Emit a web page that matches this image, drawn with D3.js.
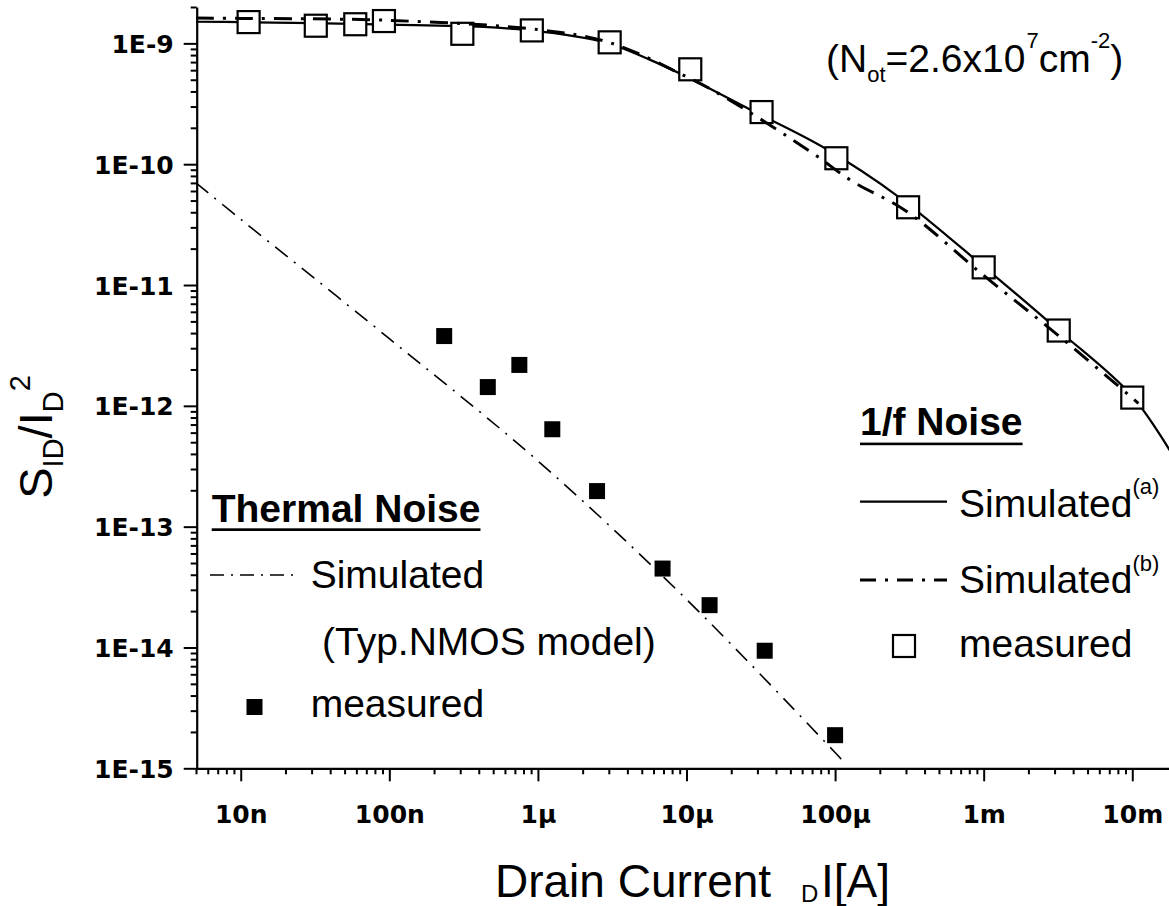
<!DOCTYPE html>
<html>
<head>
<meta charset="utf-8">
<script src="https://cdn.jsdelivr.net/npm/d3@7"></script>
<style>
  body { margin: 0; background: #fff; }
  svg { display: block; }
  .tickText { font-family: "DejaVu Sans", sans-serif; font-weight: bold; font-size: 25px; fill: #000; }
  .arial { font-family: "Liberation Sans", Arial, sans-serif; fill: #000; }
</style>
</head>
<body>
<div id="canvas"></div>
<script>
"use strict"
// canvas size
let svgWidth = 1169;
let svgHeight = 906;

// ---- data ----
// 1/f noise, measured (open squares)
const flickerX = [1.13e-8, 3.2e-8, 5.9e-8, 9.2e-8, 3.1e-7, 9.1e-7, 3.04e-6, 1.06e-5, 3.2e-5, 1.02e-4, 3.1e-4, 1.0e-3, 3.2e-3, 1.0e-2];
const flickerY = [1.50e-9, 1.40e-9, 1.44e-9, 1.53e-9, 1.20e-9, 1.28e-9, 1.02e-9, 6.1e-10, 2.7e-10, 1.12e-10, 4.4e-11, 1.4e-11, 4.2e-12, 1.17e-12];

// 1/f noise, simulated (a) solid
const simAX = [5e-9, 1e-8, 3e-8, 1e-7, 4.3e-7, 7.3e-7, 1.5e-6, 3e-6, 5.7e-6, 9.1e-6, 2.73e-5, 8.5e-5, 2.66e-4, 1e-3, 3.2e-3, 1e-2, 2e-2];
const simAY = [1.51e-9, 1.50e-9, 1.47e-9, 1.43e-9, 1.37e-9, 1.31e-9, 1.18e-9, 1.0e-9, 7.3e-10, 5.6e-10, 2.8e-10, 1.36e-10, 5.4e-11, 1.42e-11, 4.2e-12, 1.2e-12, 3.4e-13];

// 1/f noise, simulated (b) dash-dot
const simBX = [5e-9, 1e-8, 1e-7, 1e-6, 3e-6, 1e-5, 1.8e-5, 6.9e-5, 1.31e-4, 3e-4, 1e-3, 3.2e-3, 1.1e-2];
const simBY = [1.62e-9, 1.61e-9, 1.55e-9, 1.30e-9, 1.02e-9, 5.3e-10, 3.6e-10, 1.26e-10, 7.2e-11, 4.1e-11, 1.2e-11, 3.8e-12, 1.05e-12];

// thermal noise, measured (filled squares)
const thermalX = [2.34e-7, 4.6e-7, 7.5e-7, 1.25e-6, 2.5e-6, 6.9e-6, 1.43e-5, 3.36e-5, 1.0e-4];
const thermalY = [3.78e-12, 1.43e-12, 2.18e-12, 6.4e-13, 1.97e-13, 4.5e-14, 2.24e-14, 9.4e-15, 1.88e-15];

// thermal noise, simulated (thin dash-dot)
const thermSimX = [5e-9, 1e-8, 1e-7, 1e-6, 1e-5, 1e-4, 1.1e-4];
const thermSimY = [7.0e-11, 3.5e-11, 3.6e-12, 3.5e-13, 2.5e-14, 1.35e-15, 1.19e-15];

// axis ticks
const xMajor = [1e-8, 1e-7, 1e-6, 1e-5, 1e-4, 1e-3, 1e-2];
const xLabels = ["10n", "100n", "1\u00b5", "10\u00b5", "100\u00b5", "1m", "10m"];
const yMajor = [1e-15, 1e-14, 1e-13, 1e-12, 1e-11, 1e-10, 1e-9];
const yLabels = ["1E-15", "1E-14", "1E-13", "1E-12", "1E-11", "1E-10", "1E-9"];

let svg = d3.select("#canvas")
    .append("svg")
    .attr("width", svgWidth)
    .attr("height", svgHeight)

svg.append("rect")
    .attr("width", svgWidth)
    .attr("height", svgHeight)
    .attr("fill", "#ffffff")

// scales
let xScale = d3.scaleLog().domain([5e-9, 2e-2]).range([196, 1177]);
let yScale = d3.scaleLog().domain([1e-15, 2e-9]).range([768.3, 7]);

function zip(xs, ys) {
    return xs.map(function(v, i){ return { x: v, y: ys[i] }; });
}

let isMajor = function(v){ return Math.abs(Math.log10(v) - Math.round(Math.log10(v))) < 1e-6; };

// minor ticks (2..9 of each decade)
let xMinor = xScale.ticks().filter(function(v){ return !isMajor(v); });
let yMinor = yScale.ticks().filter(function(v){ return !isMajor(v); });

// x axis
let xAxisG = svg.append("g").attr("transform", "translate(0,768.3)");
xAxisG.append("g")
    .call(d3.axisBottom(xScale).tickValues(xMinor).tickSize(6).tickSizeOuter(0).tickFormat(""))
    .call(function(g){ g.select(".domain").remove(); });
xAxisG.append("g")
    .call(d3.axisBottom(xScale).tickValues(xMajor).tickSize(13).tickSizeOuter(0)
        .tickFormat(function(d, i){ return xLabels[i]; }));
xAxisG.selectAll("line").attr("stroke-width", 2);
xAxisG.selectAll(".domain").attr("stroke-width", 2.2);
xAxisG.selectAll("text").attr("class", "tickText").attr("y", 55).attr("dy", 0);

// y axis
let yAxisG = svg.append("g").attr("transform", "translate(196.7,0)");
yAxisG.append("g")
    .call(d3.axisLeft(yScale).tickValues(yMinor).tickSize(6).tickSizeOuter(0).tickFormat(""))
    .call(function(g){ g.select(".domain").remove(); });
yAxisG.append("g")
    .call(d3.axisLeft(yScale).tickValues(yMajor).tickSize(13).tickSizeOuter(0)
        .tickFormat(function(d, i){ return yLabels[i]; }));
yAxisG.selectAll("line").attr("stroke-width", 2);
yAxisG.selectAll(".domain").attr("stroke-width", 2.2);
yAxisG.selectAll("text").attr("class", "tickText").attr("x", -23).attr("dy", "0.36em");
xAxisG.selectAll("g").attr("font-family", null).attr("font-size", null);
yAxisG.selectAll("g").attr("font-family", null).attr("font-size", null);

// line generator
let line = d3.line()
    .x(function(d){ return xScale(d.x); })
    .y(function(d){ return yScale(d.y); })
    .curve(d3.curveCatmullRom.alpha(0.5));

// thermal simulated
svg.append("path")
    .datum(zip(thermSimX, thermSimY))
    .attr("d", line)
    .attr("fill", "none")
    .attr("stroke", "#000")
    .attr("stroke-width", 1.6)
    .attr("stroke-dasharray", "16,8,2,8");

// simulated (a)
svg.append("path")
    .datum(zip(simAX, simAY))
    .attr("d", line)
    .attr("fill", "none")
    .attr("stroke", "#000")
    .attr("stroke-width", 2.2);

// open squares
svg.selectAll(".openSq")
    .data(zip(flickerX, flickerY))
    .enter().append("rect")
    .attr("class", "openSq")
    .attr("x", function(d){ return xScale(d.x) - 11; })
    .attr("y", function(d){ return yScale(d.y) - 11; })
    .attr("width", 22)
    .attr("height", 22)
    .attr("fill", "#fff")
    .attr("stroke", "#000")
    .attr("stroke-width", 2.2);

// simulated (b)
svg.append("path")
    .datum(zip(simBX, simBY))
    .attr("d", line)
    .attr("fill", "none")
    .attr("stroke", "#000")
    .attr("stroke-width", 3)
    .attr("stroke-dasharray", "18,9,3,9");

// filled squares
svg.selectAll(".fillSq")
    .data(zip(thermalX, thermalY))
    .enter().append("rect")
    .attr("class", "fillSq")
    .attr("x", function(d){ return xScale(d.x) - 8; })
    .attr("y", function(d){ return yScale(d.y) - 8; })
    .attr("width", 16)
    .attr("height", 16)
    .attr("fill", "#000");

// helper: text with tspans [text, size, dy, dx]
function richText(parent, x, y, parts, attrs) {
    let t = parent.append("text").attr("class", "arial").attr("x", x).attr("y", y);
    if (attrs) { for (let k in attrs) t.attr(k, attrs[k]); }
    parts.forEach(function(p){
        let s = t.append("tspan").attr("font-size", p[1]).text(p[0]);
        if (p[2]) s.attr("dy", p[2]);
        if (p[3]) s.attr("dx", p[3]);
    });
    return t;
}

// annotation
richText(svg, 826, 71.7, [
    ["(N", 39], ["ot", 22, 10], ["=2.6x10", 39, -10], ["7", 22, -24, 1],
    ["cm", 39, 24], ["-2", 22, -24], [")", 39, 24]
]);

// ---- legend: 1/f noise ----
let fTitle = svg.append("text").attr("class", "arial")
    .attr("x", 860).attr("y", 435)
    .attr("font-size", 39).attr("font-weight", "bold")
    .text("1/f Noise");
let fLen = fTitle.node().getComputedTextLength();
svg.append("rect").attr("x", 860).attr("y", 442.6).attr("width", fLen).attr("height", 2.6).attr("fill", "#000");

svg.append("line").attr("x1", 860).attr("x2", 947).attr("y1", 501.7).attr("y2", 501.7)
    .attr("stroke", "#000").attr("stroke-width", 2.2);
richText(svg, 959, 516.7, [["Simulated", 39], ["(a)", 22, -23]]);

svg.append("line").attr("x1", 860).attr("x2", 947).attr("y1", 580).attr("y2", 580)
    .attr("stroke", "#000").attr("stroke-width", 3).attr("stroke-dasharray", "16,9,3,9");
richText(svg, 959, 593, [["Simulated", 39], ["(b)", 22, -22]]);

svg.append("rect").attr("x", 893).attr("y", 635).attr("width", 22).attr("height", 22)
    .attr("fill", "#fff").attr("stroke", "#000").attr("stroke-width", 2.2);
richText(svg, 959, 657, [["measured", 39]]);

// ---- legend: thermal noise ----
let tTitle = svg.append("text").attr("class", "arial")
    .attr("x", 211.7).attr("y", 521.7)
    .attr("font-size", 39).attr("font-weight", "bold")
    .text("Thermal Noise");
let tLen = tTitle.node().getComputedTextLength();
svg.append("rect").attr("x", 211.7).attr("y", 528.3).attr("width", tLen).attr("height", 2.7).attr("fill", "#000");

svg.append("line").attr("x1", 210).attr("x2", 297).attr("y1", 575).attr("y2", 575)
    .attr("stroke", "#000").attr("stroke-width", 1.6).attr("stroke-dasharray", "14,7,2,7");
richText(svg, 310.7, 588.3, [["Simulated", 39]]);
richText(svg, 322, 655, [["(Typ.NMOS model)", 39]]);

svg.append("rect").attr("x", 246.5).attr("y", 699).attr("width", 16).attr("height", 16).attr("fill", "#000");
richText(svg, 310.7, 716.7, [["measured", 39]]);

// ---- axis titles ----
richText(svg, 495, 897, [["Drain Current", 46]]);
richText(svg, 801, 902, [["D", 24]]);
richText(svg, 821, 897, [["I[A]", 46]]);

let yTitle = svg.append("g").attr("transform", "translate(52,437) rotate(-90)");
richText(yTitle, 0, 0, [
    ["S", 47], ["ID", 29, 11], ["/I", 47, -11], ["D", 29, 11], ["2", 29, -33]
], { "text-anchor": "middle" });
</script>
</body>
</html>
